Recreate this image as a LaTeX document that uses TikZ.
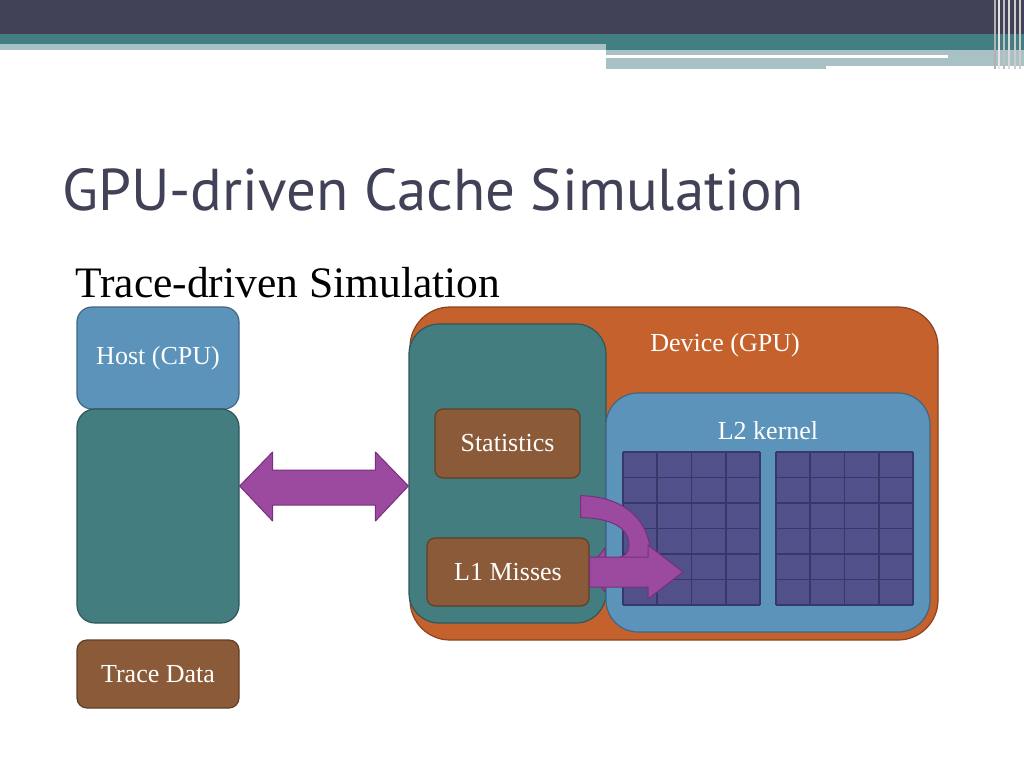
\documentclass[tikz,border=0pt]{standalone}
\usepackage{fontspec}
\setmainfont{Liberation Serif}
\newfontfamily\titlefont{PT Sans}
\usetikzlibrary{calc}
\definecolor{darkbar}{HTML}{414257}
\definecolor{tealband}{HTML}{437E82}
\definecolor{greyband}{HTML}{A8C1C4}
\definecolor{hostblue}{HTML}{5B93BB}
\definecolor{tealbox}{HTML}{437D80}
\definecolor{brownbox}{HTML}{8B5A38}
\definecolor{orangebox}{HTML}{C5612C}
\definecolor{purplearrow}{HTML}{9C4A9F}
\definecolor{purpleedge}{HTML}{76307C}
\definecolor{gridfill}{HTML}{51508A}
\definecolor{gridline}{HTML}{37376A}
\tikzset{
  rbox/.style={draw, line width=1.2pt, inner sep=0pt, text=white,
    font=\fontsize{26}{29}\selectfont},
  bluebox/.style={rbox, fill=hostblue, draw=hostblue!70!black},
  tealshape/.style={rbox, fill=tealbox, draw=tealbox!70!black},
  brownshape/.style={rbox, fill=brownbox, draw=brownbox!70!black},
  orangeshape/.style={rbox, fill=orangebox, draw=orangebox!70!black},
  bigarrow/.style={fill=purplearrow, draw=purpleedge, line width=1pt, line join=round},
  gline/.style={draw=gridline, line width=1.6pt},
  lbl/.style={text=white, inner sep=0pt, font=\fontsize{26}{29}\selectfont}
}
\begin{document}
\begin{tikzpicture}[x=1pt,y=-1pt]
\useasboundingbox (0,0) rectangle (1024,768);
\fill[white] (0,0) rectangle (1024,768);
% top banner
\fill[darkbar] (0,0) rectangle (1024,34);
\fill[tealband] (0,34) rectangle (1024,44);
\fill[greyband] (0,44) rectangle (606,50);
\fill[tealband] (606,44) rectangle (1024,50);
\fill[greyband] (606,50) rectangle (1024,66);
\fill[greyband] (606,66) rectangle (826,69);
\fill[white] (606,55) rectangle (948,58);
\foreach \xx/\cc in {994/gray!60,998/white!80!gray,1003/gray!50,1008/white!70!gray,1014/gray!40,1019/white!60!gray}
  \fill[\cc] (\xx,0) rectangle ++(2,69);
% title
\node[anchor=base west, inner sep=0pt, text=darkbar,
  font=\titlefont\fontsize{59}{63}\selectfont] (title) at (62,210) {GPU-driven Cache Simulation};
\node[anchor=base west, inner sep=0pt, text=black,
  font=\fontsize{43.5}{47}\selectfont] (subtitle) at (75,297) {Trace-driven Simulation};
% host side
\node[bluebox, rounded corners=15pt, minimum width=162pt, minimum height=102pt] (host) at (158,358) {Host (CPU)};
\node[tealshape, rounded corners=18pt, minimum width=162pt, minimum height=214pt] (hbox) at (158,516) {};
\node[brownshape, rounded corners=10pt, minimum width=162pt, minimum height=68pt] (trace) at (158,674) {Trace Data};
% device
\node[orangeshape, rounded corners=40pt, minimum width=528pt, minimum height=333pt] (device) at (674,473.5) {};
\node[lbl] (devlbl) at (725,345) {Device (GPU)};
\node[tealshape, rounded corners=30pt, minimum width=197pt, minimum height=299pt] (inner) at (507.5,473.5) {};
\node[bluebox, rounded corners=32pt, minimum width=324pt, minimum height=239pt] (l2) at (768,512.5) {};
\node[lbl] (l2lbl) at (768,431) {L2 kernel};
\node[brownshape, rounded corners=8pt, minimum width=145pt, minimum height=69pt] (stats) at (507.5,443.5) {Statistics};
% grids
\foreach \gx in {623,776}{
  \fill[gridfill] (\gx,452) rectangle ++(137,153);
  \foreach \i in {0,1,2,3,4} \draw[gline] ({\gx+\i*34.25},452) -- ++(0,153);
  \foreach \j in {0,1,2,3,4,5,6} \draw[gline] (\gx,{452+\j*25.5}) -- ++(137,0);
}
% curved arrow from statistics area to L1 misses
\draw[bigarrow] ($(stats.south east)+(0,17)$)
  .. controls (630,497) and (652,525) .. (651,562)
  .. controls (650,576) and (632,582) .. (605,581)
  -- (605,592) -- (588,570) -- (605,548) -- (605,559)
  .. controls (622,559) and (629,555) .. (629,545)
  .. controls (629,527) and (610,518) .. ($(stats.south east)+(0,39)$) -- cycle;
\node[brownshape, rounded corners=8pt, minimum width=162pt, minimum height=68pt] (l1) at (508,572) {L1 Misses};
% straight arrow
\coordinate (l1tip) at (683,572);
\draw[bigarrow] ($(l1.east)+(0,-15)$) -- ($(l1tip)+(-35,-15)$) -- ($(l1tip)+(-35,-27)$) -- (l1tip)
  -- ($(l1tip)+(-35,27)$) -- ($(l1tip)+(-35,15)$) -- ($(l1.east)+(0,15)$) -- cycle;
% double arrow host <-> device
\coordinate (ay) at (0,486);
\coordinate (aL) at (hbox.east |- ay);
\coordinate (aR) at (inner.west |- ay);
\draw[bigarrow] (aL) -- ($(aL)+(33,-34)$) -- ($(aL)+(33,-16)$) -- ($(aR)+(-33,-16)$) -- ($(aR)+(-33,-34)$)
  -- (aR) -- ($(aR)+(-33,35)$) -- ($(aR)+(-33,19)$) -- ($(aL)+(33,19)$) -- ($(aL)+(33,35)$) -- cycle;
\end{tikzpicture}
\end{document}
